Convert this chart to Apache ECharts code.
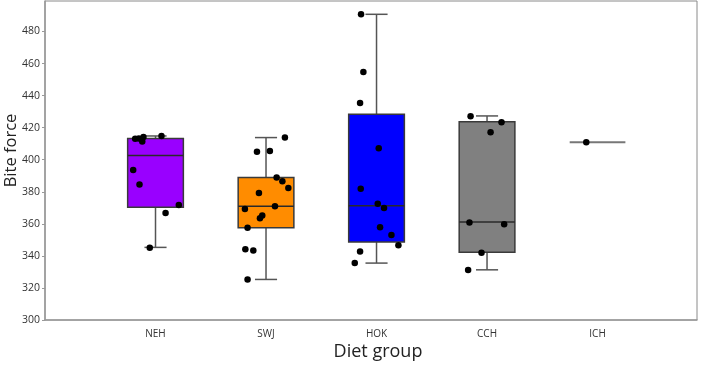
<!DOCTYPE html>
<html><head><meta charset="utf-8">
<script src="https://cdn.jsdelivr.net/npm/echarts@6/dist/echarts.min.js"></script>
<style>html,body{margin:0;padding:0;background:#fff}#c{width:708px;height:365px}</style>
</head><body><div id="c"></div>
<script>
const categories = ['NEH', 'SWJ', 'HOK', 'CCH', 'ICH'];
const boxColors = ['#9900FF', '#FF8C00', '#0000FF', '#808080', '#808080'];
// [lower whisker, Q1, median, Q3, upper whisker]
const NEH_box = [345.3, 370.4, 402.6, 413.2, 414.8];
const SWJ_box = [325.3, 357.5, 371.0, 388.9, 413.8];
const HOK_box = [335.5, 348.6, 371.2, 428.3, 490.7];
const CCH_box = [331.3, 342.2, 361.1, 423.6, 427.3];
const ICH_box = [410.9, 410.9, 410.9, 410.9, 410.9];
const NEH_pts = [413.1, 413.2, 411.3, 414.2, 414.8, 393.5, 384.5, 371.7, 366.7, 345.0];
const NEH_jit = [-0.184, -0.151, -0.120, -0.109, 0.054, -0.202, -0.145, 0.211, 0.091, -0.052];
const SWJ_pts = [413.8, 404.9, 405.5, 388.9, 386.6, 382.4, 379.3, 369.3, 371.0, 365.2, 363.4, 357.5, 344.2, 343.4, 325.3];
const SWJ_jit = [0.171, -0.082, 0.035, 0.096, 0.148, 0.202, -0.064, -0.191, 0.081, -0.034, -0.055, -0.167, -0.187, -0.115, -0.167];
const HOK_pts = [490.7, 454.7, 435.4, 407.2, 381.8, 372.5, 369.8, 357.8, 353.0, 346.7, 342.8, 335.5];
const HOK_jit = [-0.140, -0.119, -0.149, 0.020, -0.143, 0.011, 0.068, 0.032, 0.135, 0.198, -0.149, -0.197];
const CCH_pts = [427.1, 423.4, 417.1, 360.9, 359.8, 341.9, 331.2];
const CCH_jit = [-0.149, 0.131, 0.032, -0.159, 0.155, -0.050, -0.171];
const ICH_pts = [410.9];
const ICH_jit = [-0.102];
const yTicks = [300, 320, 340, 360, 380, 400, 420, 440, 460, 480];

const boxes = [NEH_box, SWJ_box, HOK_box, CCH_box, ICH_box];
const pts = [NEH_pts, SWJ_pts, HOK_pts, CCH_pts, ICH_pts];
const jit = [NEH_jit, SWJ_jit, HOK_jit, CCH_jit, ICH_jit];

const boxData = boxes.map((b, i) => [i + 1].concat(b).concat([i]));
const scatterData = [];
pts.forEach((arr, i) => arr.forEach((v, j) => scatterData.push([i + 1 + jit[i][j], v])));

const BOX_HALF = 0.252, CAP_HALF = 0.1;
const chart = echarts.init(document.getElementById('c'));
chart.setOption({
  animation: false,
  grid: { left: 45, right: 11, top: 1, bottom: 45, show: true, borderColor: '#8a8a8a', borderWidth: 1,
    backgroundColor: 'transparent', containLabel: false, outerBoundsMode: 'none' },
  xAxis: {
    type: 'value', min: 0, max: 5.9, interval: 1,
    name: 'Diet group', nameLocation: 'middle', nameGap: 23, nameMoveOverlap: false,
    nameTextStyle: { fontFamily: 'Open Sans', fontSize: 18, color: '#222', padding: [0, 0, 0, 14] },
    axisLine: { show: true, lineStyle: { color: '#999', width: 1.5 } },
    axisTick: { show: false }, splitLine: { show: false },
    axisLabel: { fontFamily: 'Open Sans', fontSize: 10, color: '#333', margin: 9,
      formatter: v => (Number.isInteger(v) && v >= 1 && v <= categories.length) ? categories[v - 1] : '' }
  },
  yAxis: {
    type: 'value', min: 300, max: 499, interval: 20,
    name: 'Bite force', nameLocation: 'middle', nameGap: 25, nameMoveOverlap: false,
    nameTextStyle: { fontFamily: 'Open Sans', fontSize: 16.5, color: '#222', padding: [0, 0, 0, 20] },
    axisLine: { show: true, lineStyle: { color: '#999', width: 1.5 } },
    axisTick: { show: true, length: 3, lineStyle: { color: '#999' } },
    splitLine: { show: false },
    axisLabel: { fontFamily: 'Open Sans', fontSize: 10.5, color: '#333', margin: 5, showMaxLabel: false,
      formatter: v => yTicks.indexOf(v) >= 0 ? String(v) : '' }
  },
  series: [{
    type: 'custom', data: boxData, z: 2,
    encode: { x: 0, y: [1, 2, 3, 4, 5] },
    renderItem: function (params, api) {
      const x = api.value(0), lo = api.value(1), q1 = api.value(2), med = api.value(3), q3 = api.value(4), hi = api.value(5);
      const ci = api.value(6);
      const pL = api.coord([x - BOX_HALF, q3]), pR = api.coord([x + BOX_HALF, q1]);
      const c = api.coord([x, med]);
      const pHi = api.coord([x, hi]), pLo = api.coord([x, lo]);
      const pQ3 = api.coord([x, q3]), pQ1 = api.coord([x, q1]);
      const capL = api.coord([x - CAP_HALF, hi])[0], capR = api.coord([x + CAP_HALF, hi])[0];
      const ls = { stroke: '#555', lineWidth: 1.5 };
      const children = [];
      if (q3 === q1) {
        children.push({ type: 'line', shape: { x1: pL[0], y1: c[1], x2: pR[0], y2: c[1] }, style: { stroke: '#777', lineWidth: 2 } });
      } else {
        children.push({ type: 'line', shape: { x1: pHi[0], y1: pHi[1], x2: pQ3[0], y2: pQ3[1] }, style: ls });
        children.push({ type: 'line', shape: { x1: pLo[0], y1: pLo[1], x2: pQ1[0], y2: pQ1[1] }, style: ls });
        children.push({ type: 'line', shape: { x1: capL, y1: pHi[1], x2: capR, y2: pHi[1] }, style: ls });
        children.push({ type: 'line', shape: { x1: capL, y1: pLo[1], x2: capR, y2: pLo[1] }, style: ls });
        children.push({ type: 'rect', shape: { x: pL[0], y: pL[1], width: pR[0] - pL[0], height: pR[1] - pL[1] },
          style: { fill: boxColors[ci], stroke: '#3a3a3a', lineWidth: 1.5 } });
        children.push({ type: 'line', shape: { x1: pL[0], y1: c[1], x2: pR[0], y2: c[1] }, style: { stroke: '#2a2a2a', lineWidth: 1.5 } });
      }
      return { type: 'group', children: children };
    }
  }, {
    type: 'scatter', data: scatterData, z: 5,
    symbol: 'circle', symbolSize: 6.5,
    itemStyle: { color: '#000', opacity: 1 }
  }]
});
</script></body></html>
